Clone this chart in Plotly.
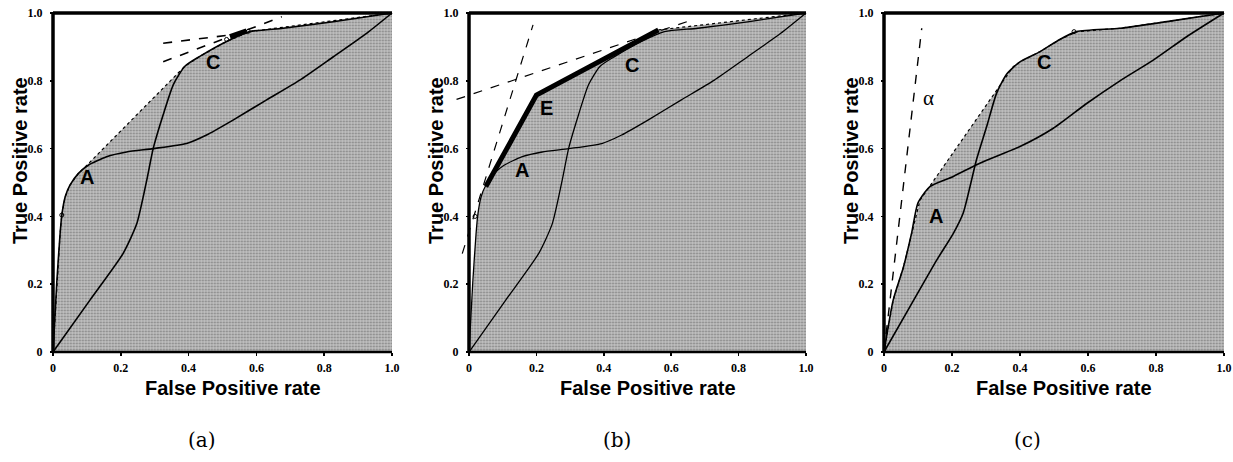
import plotly.graph_objects as go

# ---------------- data ----------------
# Curves A and C used in panels (a) and (b)
A_x = [0, 0.011, 0.021, 0.026, 0.036, 0.05, 0.075, 0.104, 0.158, 0.217, 0.296, 0.394, 0.453, 0.531, 0.629, 0.728, 0.827, 0.925, 1.0]
A_y = [0, 0.203, 0.35, 0.404, 0.458, 0.492, 0.527, 0.551, 0.576, 0.59, 0.6, 0.615, 0.64, 0.684, 0.743, 0.802, 0.871, 0.94, 1.0]
C_x = [0, 0.109, 0.207, 0.247, 0.276, 0.296, 0.325, 0.355, 0.389, 0.433, 0.512, 0.58, 0.679, 0.827, 1.0]
C_y = [0, 0.153, 0.291, 0.378, 0.504, 0.602, 0.70, 0.789, 0.843, 0.872, 0.916, 0.945, 0.955, 0.974, 1.0]

# Convex hull (a)
hullA_x = [0, 0.011, 0.021, 0.026, 0.036, 0.05, 0.075, 0.099, 0.389, 0.433, 0.512, 0.58, 1.0]
hullA_y = [0, 0.203, 0.35, 0.404, 0.458, 0.492, 0.527, 0.55, 0.843, 0.872, 0.916, 0.945, 1.0]
# Hull (b) including point E
hullB_x = [0, 0.011, 0.021, 0.026, 0.036, 0.05, 0.2, 0.562, 1.0]
hullB_y = [0, 0.203, 0.35, 0.404, 0.458, 0.488, 0.758, 0.95, 1.0]
E_x = [0.05, 0.2, 0.562]
E_y = [0.488, 0.758, 0.95]

# Curves for panel (c)
A3_x = [0, 0.027, 0.057, 0.081, 0.1, 0.135, 0.204, 0.282, 0.4, 0.498, 0.596, 0.694, 0.792, 0.89, 1.0]
A3_y = [0, 0.153, 0.25, 0.35, 0.44, 0.488, 0.518, 0.557, 0.606, 0.66, 0.733, 0.8, 0.861, 0.93, 1.0]
C3_x = [0, 0.076, 0.155, 0.204, 0.233, 0.253, 0.272, 0.302, 0.331, 0.361, 0.4, 0.459, 0.517, 0.567, 0.694, 0.841, 1.0]
C3_y = [0, 0.133, 0.271, 0.35, 0.41, 0.488, 0.567, 0.665, 0.763, 0.82, 0.856, 0.886, 0.922, 0.945, 0.955, 0.976, 1.0]
hullC_x = [0, 0.027, 0.057, 0.081, 0.106, 0.38, 0.4, 0.459, 0.517, 0.567, 0.694, 0.841, 1.0]
hullC_y = [0, 0.153, 0.25, 0.35, 0.448, 0.842, 0.856, 0.886, 0.922, 0.945, 0.955, 0.976, 1.0]

# iso-performance (dashed) lines
isoA1_x = [0.325, 0.522]; isoA1_y = [0.911, 0.935]
isoA2_x = [0.325, 0.675]; isoA2_y = [0.856, 0.989]
barA_x = [0.522, 0.571]; barA_y = [0.930, 0.947]
isoB1_x = [-0.02, 0.19]; isoB1_y = [0.29, 0.965]
isoB2_x = [-0.037, 0.666]; isoB2_y = [0.745, 0.981]
alpha_x = [0, 0.111]; alpha_y = [0, 0.955]

# small open markers
ptsA_x = [0.026, 0.512, 0.576]; ptsA_y = [0.404, 0.922, 0.946]
ptsB_x = [0.018]; ptsB_y = [0.40]
ptsC_x = [0.559]; ptsC_y = [0.945]

tick_vals = [0, 0.2, 0.4, 0.6, 0.8, 1.0]
tick_text = ["0", "0.2", "0.4", "0.6", "0.8", "1.0"]

# the page's default body margin is removed by a post-script, so page px == figure px
W, H = 1233, 462
def fx(px):  # page px -> paper x
    return px / W
def fy(py):  # page py -> paper y
    return 1 - py / H

# pixel geometry of each plot box (x=0, x=1) and y (y=0 at 352, y=1 at 13)
boxes = [(53, 392), (469, 806), (884, 1224)]
Y0, Y1 = 352, 13
XR = [-0.04, 1.005]
YR = [-0.012, 1.012]

fig = go.Figure()
FILL = "#bcbcbc"
pattern = dict(shape=".", bgcolor="#c2c2c2", fgcolor="#383838", size=3, solidity=0.3)

def add(panel, **kw):
    xa = "x" if panel == 1 else f"x{panel}"
    ya = "y" if panel == 1 else f"y{panel}"
    fig.add_trace(go.Scatter(xaxis=xa, yaxis=ya, showlegend=False, hoverinfo="skip", **kw))

# Panel (a)
add(1, x=hullA_x, y=hullA_y, mode="lines", line=dict(width=0), fill="tozeroy", fillcolor=FILL, fillpattern=pattern)
add(1, x=hullA_x, y=hullA_y, mode="lines", line=dict(color="black", width=1.2, dash="dot"))
add(1, x=A_x, y=A_y, mode="lines", line=dict(color="black", width=1.6, shape="spline", smoothing=0.6))
add(1, x=C_x, y=C_y, mode="lines", line=dict(color="black", width=1.6, shape="spline", smoothing=0.6))
add(1, x=isoA1_x, y=isoA1_y, mode="lines", line=dict(color="black", width=1.6, dash="dash"))
add(1, x=isoA2_x, y=isoA2_y, mode="lines", line=dict(color="black", width=1.6, dash="dash"))
add(1, x=barA_x, y=barA_y, mode="lines", line=dict(color="black", width=5))
add(1, x=ptsA_x, y=ptsA_y, mode="markers", marker=dict(symbol="circle-open", size=4, color="black", line=dict(width=1)))

# Panel (b)
add(2, x=hullB_x, y=hullB_y, mode="lines", line=dict(width=0), fill="tozeroy", fillcolor=FILL, fillpattern=pattern)
add(2, x=A_x, y=A_y, mode="lines", line=dict(color="black", width=1.3, shape="spline", smoothing=0.6))
add(2, x=C_x, y=C_y, mode="lines", line=dict(color="black", width=1.3, shape="spline", smoothing=0.6))
add(2, x=hullB_x[-2:], y=hullB_y[-2:], mode="lines", line=dict(color="black", width=1.2, dash="dot"))
add(2, x=isoB1_x, y=isoB1_y, mode="lines", line=dict(color="black", width=1.2, dash="dash"))
add(2, x=isoB2_x, y=isoB2_y, mode="lines", line=dict(color="black", width=1.2, dash="dash"))
add(2, x=E_x, y=E_y, mode="lines", line=dict(color="black", width=5))
add(2, x=ptsB_x, y=ptsB_y, mode="markers", marker=dict(symbol="circle-open", size=4, color="black", line=dict(width=1)))

# Panel (c)
add(3, x=hullC_x, y=hullC_y, mode="lines", line=dict(width=0), fill="tozeroy", fillcolor=FILL, fillpattern=pattern)
add(3, x=hullC_x, y=hullC_y, mode="lines", line=dict(color="black", width=1.2, dash="dot"))
add(3, x=A3_x, y=A3_y, mode="lines", line=dict(color="black", width=1.6, shape="spline", smoothing=0.6))
add(3, x=C3_x, y=C3_y, mode="lines", line=dict(color="black", width=1.6, shape="spline", smoothing=0.6))
add(3, x=alpha_x, y=alpha_y, mode="lines", line=dict(color="black", width=1.4, dash="dash"))
add(3, x=ptsC_x, y=ptsC_y, mode="markers", marker=dict(symbol="circle-open", size=4, color="black", line=dict(width=1)))

tickfont = dict(family="Liberation Serif", size=12, color="black", weight="bold")
layout = dict(width=W, height=H, margin=dict(l=0, r=0, t=0, b=0, pad=0),
              paper_bgcolor="white", plot_bgcolor="white", showlegend=False)

py_lo = Y0 - YR[0] * (Y0 - Y1)   # page pixel of y=YR[0]
py_hi = Y0 - YR[1] * (Y0 - Y1)
ydom = [fy(py_lo), fy(py_hi)]

shapes = []
annotations = []
for i, (p0, p1) in enumerate(boxes, start=1):
    s = p1 - p0
    dom = [fx(p0 + XR[0] * s), fx(p0 + XR[1] * s)]
    xk = "xaxis" if i == 1 else f"xaxis{i}"
    yk = "yaxis" if i == 1 else f"yaxis{i}"
    xr = "x" if i == 1 else f"x{i}"
    yr = "y" if i == 1 else f"y{i}"
    layout[xk] = dict(domain=dom, range=XR, anchor="free", position=fy(Y0),
                      tickvals=tick_vals, ticktext=tick_text, tickfont=tickfont,
                      ticks="outside", ticklen=3, tickwidth=1.5, tickcolor="black",
                      showgrid=False, zeroline=False, showline=False, ticklabelstandoff=2,
                      ticklabeloverflow="allow", automargin=False, fixedrange=True)
    layout[yk] = dict(domain=ydom, range=YR, anchor="free", position=fx(p0),
                      tickvals=tick_vals, ticktext=tick_text, tickfont=tickfont,
                      ticks="outside", ticklen=3, tickwidth=1.5, tickcolor="black",
                      showgrid=False, zeroline=False, showline=False, ticklabelstandoff=5,
                      ticklabeloverflow="allow", automargin=False, fixedrange=True)
    # frame: thick top, left, bottom
    shapes.append(dict(type="line", xref=xr, yref=yr, x0=0, x1=1, y0=1, y1=1, line=dict(color="black", width=3.5)))
    shapes.append(dict(type="line", xref=xr, yref=yr, x0=0, x1=0, y0=0, y1=1, line=dict(color="black", width=3.5)))
    shapes.append(dict(type="line", xref=xr, yref=yr, x0=0, x1=1, y0=0, y1=0, line=dict(color="black", width=2.5)))
    # axis titles
    annotations.append(dict(xref="paper", yref="paper", x=fx((p0 + p1) / 2 + 10), y=fy(388),
                            xanchor="center", yanchor="middle",
                            text="<b>False Positive rate</b>", showarrow=False,
                            font=dict(family="Liberation Sans", size=20, color="black")))
    annotations.append(dict(xref="paper", yref="paper", x=fx(p0 - 33), y=fy(161),
                            xanchor="center", yanchor="middle",
                            text="<b>True Positive rate</b>", showarrow=False, textangle=-90,
                            font=dict(family="Liberation Sans", size=20, color="black")))

captions = ["(a)", "(b)", "(c)"]
cap_x = [202, 617, 1027]
for c, cx in zip(captions, cap_x):
    annotations.append(dict(xref="paper", yref="paper", x=fx(cx), y=fy(440), xanchor="center", yanchor="middle",
                            text=c, showarrow=False,
                            font=dict(family="DejaVu Serif", size=20, color="black")))

lab_font = dict(family="Liberation Sans", size=20, color="black")
curve_labels = [("x", "y", 0.101, 0.517, "A"), ("x", "y", 0.473, 0.856, "C"),
                ("x2", "y2", 0.23, 0.719, "E"), ("x2", "y2", 0.156, 0.537, "A"), ("x2", "y2", 0.483, 0.847, "C"),
                ("x3", "y3", 0.153, 0.401, "A"), ("x3", "y3", 0.47, 0.856, "C")]
for xr, yr, x, y, t in curve_labels:
    annotations.append(dict(xref=xr, yref=yr, x=x, y=y, xanchor="center", yanchor="middle",
                            text=f"<b>{t}</b>", showarrow=False, font=lab_font))
annotations.append(dict(xref="x3", yref="y3", x=0.13, y=0.748, xanchor="center", yanchor="middle",
                        text="α", showarrow=False,
                        font=dict(family="Liberation Serif", size=21, color="black")))

layout["shapes"] = shapes
layout["annotations"] = annotations
layout["hovermode"] = False
fig.update_layout(**layout)
fig.write_html("out.html", config={"displayModeBar": False, "staticPlot": True},
               post_script="document.body.style.margin='0px'; document.body.style.overflow='hidden';")
